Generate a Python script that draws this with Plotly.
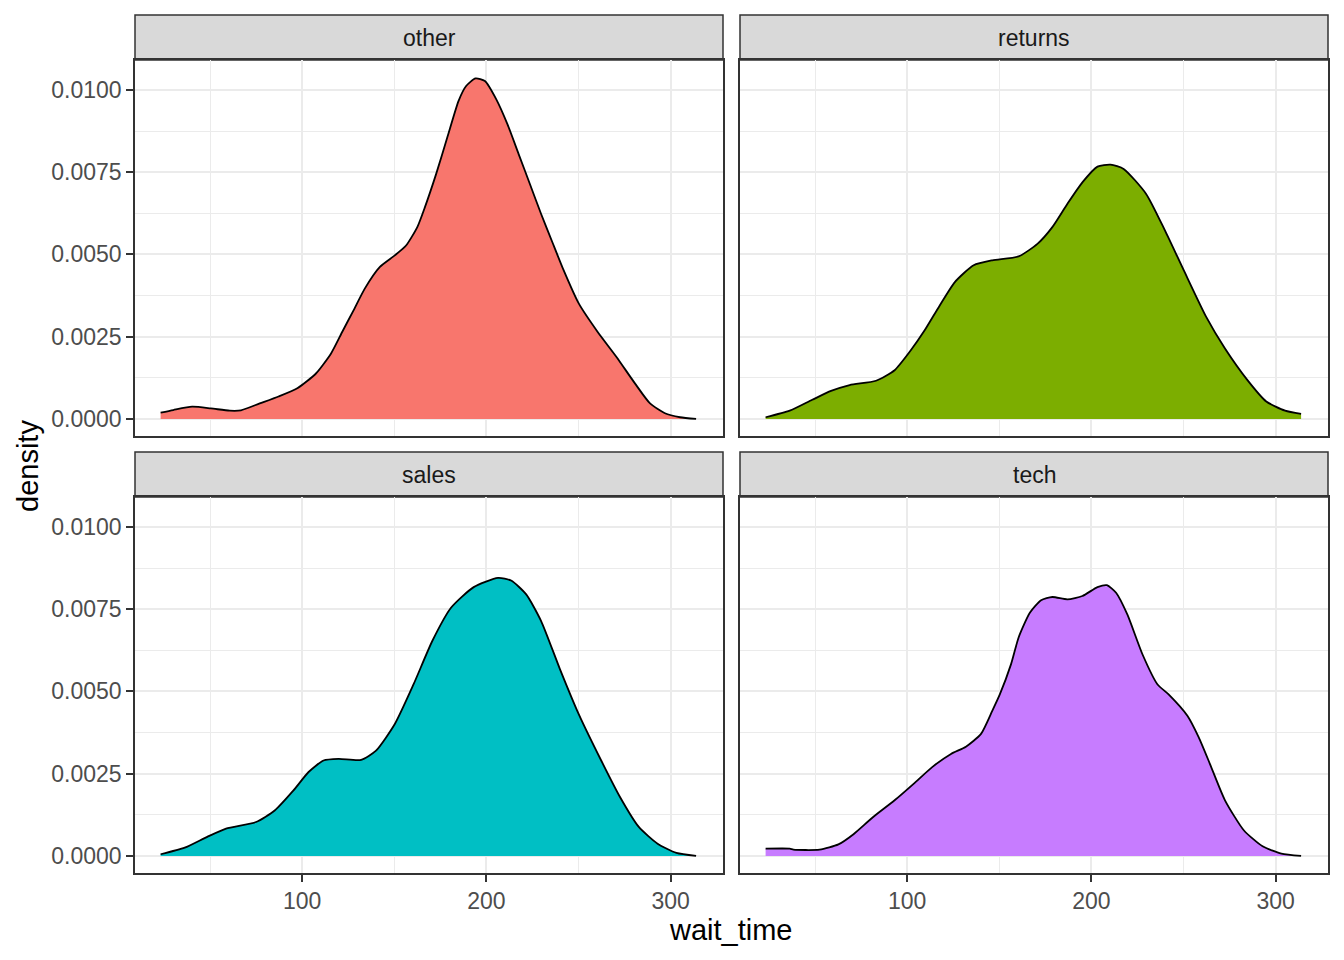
import plotly.graph_objects as go
from plotly.subplots import make_subplots

# facet names and their fill colours (ggplot default hues)
groups = ["other", "returns", "sales", "tech"]
fills = ["#F8766D", "#7CAE00", "#00BFC4", "#C77CFF"]

# density curves (x = wait_time, y = density)
other_x = [23.2, 30.1, 40.3, 50.5, 60.7, 66.8, 77.0, 87.2, 97.4, 107.5, 115.7, 121.8, 127.9, 134.0,
           142.2, 150.3, 156.4, 162.5, 166.6, 172.7, 178.8, 184.9, 189.0, 194.1, 199.2, 205.3, 211.4,
           217.5, 223.6, 229.7, 235.8, 241.9, 250.1, 260.3, 270.5, 280.6, 288.8, 296.9, 305.1, 313.8]
other_y = [0.00019, 0.00027, 0.00037, 0.00032, 0.00025, 0.00026, 0.00047, 0.00068, 0.00093, 0.00138,
           0.00199, 0.00265, 0.00330, 0.00396, 0.00462, 0.00497, 0.00527, 0.00583, 0.00643, 0.00744,
           0.00856, 0.00967, 0.01012, 0.01035, 0.01027, 0.00972, 0.00896, 0.00805, 0.00714, 0.00623,
           0.00537, 0.00452, 0.00351, 0.00265, 0.00189, 0.00108, 0.00047, 0.00017, 0.00005, 0.00000]

returns_x = [23.2, 36.3, 48.5, 58.7, 68.8, 83.1, 93.2, 101.4, 109.6, 117.7, 125.9, 136.1, 146.2, 160.5,
             170.7, 178.8, 187.0, 195.1, 203.3, 210.4, 217.5, 229.7, 239.9, 250.1, 262.3, 272.5, 284.7,
             294.9, 305.1, 313.8]
returns_y = [0.00005, 0.00025, 0.00058, 0.00085, 0.00103, 0.00116, 0.00148, 0.00204, 0.00270, 0.00345,
             0.00416, 0.00467, 0.00482, 0.00494, 0.00532, 0.00583, 0.00654, 0.00719, 0.00767, 0.00773,
             0.00760, 0.00684, 0.00573, 0.00452, 0.00310, 0.00214, 0.00118, 0.00053, 0.00025, 0.00015]

sales_x = [23.2, 36.3, 48.5, 58.7, 75.0, 85.1, 95.3, 103.5, 111.6, 119.8, 132.0, 140.1, 150.3, 160.5,
           170.7, 180.9, 193.1, 206.3, 213.4, 221.6, 229.7, 239.9, 250.1, 262.3, 272.5, 282.7, 292.9,
           303.1, 313.8]
sales_y = [0.00005, 0.00025, 0.00058, 0.00083, 0.00103, 0.00138, 0.00199, 0.00255, 0.00290, 0.00295,
           0.00292, 0.00320, 0.00401, 0.00522, 0.00654, 0.00755, 0.00817, 0.00845, 0.00837, 0.00795,
           0.00714, 0.00568, 0.00431, 0.00290, 0.00179, 0.00088, 0.00037, 0.00009, 0.00000]

tech_x = [23.2, 36.3, 38.3, 52.5, 62.7, 70.9, 81.1, 93.2, 103.5, 113.6, 123.8, 131.9, 140.1, 146.2,
          150.3, 156.4, 160.5, 166.6, 172.7, 178.8, 187.0, 195.1, 203.3, 208.4, 213.4, 219.5, 227.7,
          235.8, 241.9, 252.1, 258.2, 264.3, 272.5, 282.7, 292.9, 303.1, 313.8]
tech_y = [0.00022, 0.00022, 0.00019, 0.00019, 0.00035, 0.00066, 0.00116, 0.00169, 0.00219, 0.00270,
          0.00310, 0.00332, 0.00371, 0.00441, 0.00491, 0.00583, 0.00664, 0.00739, 0.00777, 0.00787,
          0.00780, 0.00790, 0.00817, 0.00823, 0.00800, 0.00734, 0.00613, 0.00522, 0.00491, 0.00426,
          0.00361, 0.00280, 0.00169, 0.00078, 0.00029, 0.00007, 0.00000]

series = [(other_x, other_y), (returns_x, returns_y), (sales_x, sales_y), (tech_x, tech_y)]

y_ticks = [0.0, 0.0025, 0.005, 0.0075, 0.01]
x_ticks = [100, 200, 300]

W, H = 1344, 960
L, R, T, B = 135, 16, 15, 87
pw = W - L - R
ph = H - T - B


def fx(p):
    return (p - L) / pw


def fy(p):
    return (H - B - p) / ph


col_dom = [[fx(135), fx(723)], [fx(740), fx(1328)]]
row_dom = [[fy(436), fy(60)], [fy(873), fy(497)]]
strip_dom = [[fy(60), fy(15)], [fy(497), fy(452)]]

fig = make_subplots(rows=2, cols=2)

for i, (xs, ys) in enumerate(series):
    r, c = i // 2 + 1, i % 2 + 1
    fig.add_trace(go.Scatter(x=xs, y=ys, mode="lines", fill="tozeroy",
                             fillcolor=fills[i],
                             line=dict(color="black", width=1.8, shape="spline", smoothing=0.6),
                             showlegend=False, hoverinfo="skip"), row=r, col=c)

tick_font = dict(family="Liberation Sans, Arial", size=23, color="#4D4D4D")
grid = "#EBEBEB"
border = "#333333"

for i in range(4):
    r, c = i // 2, i % 2
    n = "" if i == 0 else str(i + 1)
    fig.layout["xaxis" + n].update(
        domain=col_dom[c], range=[9.3, 328.4], tickvals=x_ticks,
        showticklabels=(r == 1), ticks="outside" if r == 1 else "",
        ticklen=7, tickwidth=1.5, tickcolor=border, tickfont=tick_font,
        showgrid=True, gridcolor=grid, gridwidth=1.6,
        minor=dict(tickvals=[50, 150, 250], showgrid=True, gridcolor=grid, gridwidth=0.8),
        showline=True, mirror=True, linecolor=border, linewidth=1.5, zeroline=False)
    fig.layout["yaxis" + n].update(
        domain=row_dom[r], range=[-0.00052, 0.01091], tickvals=y_ticks, tickformat=".4f",
        showticklabels=(c == 0), ticks="outside" if c == 0 else "",
        ticklen=7, tickwidth=1.5, tickcolor=border, tickfont=tick_font,
        showgrid=True, gridcolor=grid, gridwidth=1.6,
        minor=dict(tickvals=[0.00125, 0.00375, 0.00625, 0.00875], showgrid=True,
                   gridcolor=grid, gridwidth=0.8),
        showline=True, mirror=True, linecolor=border, linewidth=1.5, zeroline=False)

    # facet strip
    fig.add_shape(type="rect", xref="paper", yref="paper",
                  x0=col_dom[c][0], x1=col_dom[c][1], y0=strip_dom[r][0], y1=strip_dom[r][1],
                  fillcolor="#D9D9D9", line=dict(color=border, width=1.5), layer="below")
    fig.add_annotation(text=groups[i], xref="paper", yref="paper", showarrow=False,
                       x=(col_dom[c][0] + col_dom[c][1]) / 2,
                       y=(strip_dom[r][0] + strip_dom[r][1]) / 2,
                       xanchor="center", yanchor="middle",
                       font=dict(family="Liberation Sans, Arial", size=23, color="#1A1A1A"))

fig.add_annotation(text="wait_time", xref="paper", yref="paper", showarrow=False,
                   x=fx(731), y=fy(930), xanchor="center", yanchor="middle",
                   font=dict(family="Liberation Sans, Arial", size=29, color="black"))
fig.add_annotation(text="density", xref="paper", yref="paper", showarrow=False,
                   x=fx(28), y=fy(466), xanchor="center", yanchor="middle", textangle=-90,
                   font=dict(family="Liberation Sans, Arial", size=29, color="black"))

fig.update_layout(width=W, height=H, margin=dict(l=L, r=R, t=T, b=B),
                  paper_bgcolor="white", plot_bgcolor="white", showlegend=False)

# drop the browser's default 8px body margin so the figure sits at the page origin
fig.write_html("out.html", config={"displayModeBar": False},
               post_script="document.body.style.margin='0px';")
